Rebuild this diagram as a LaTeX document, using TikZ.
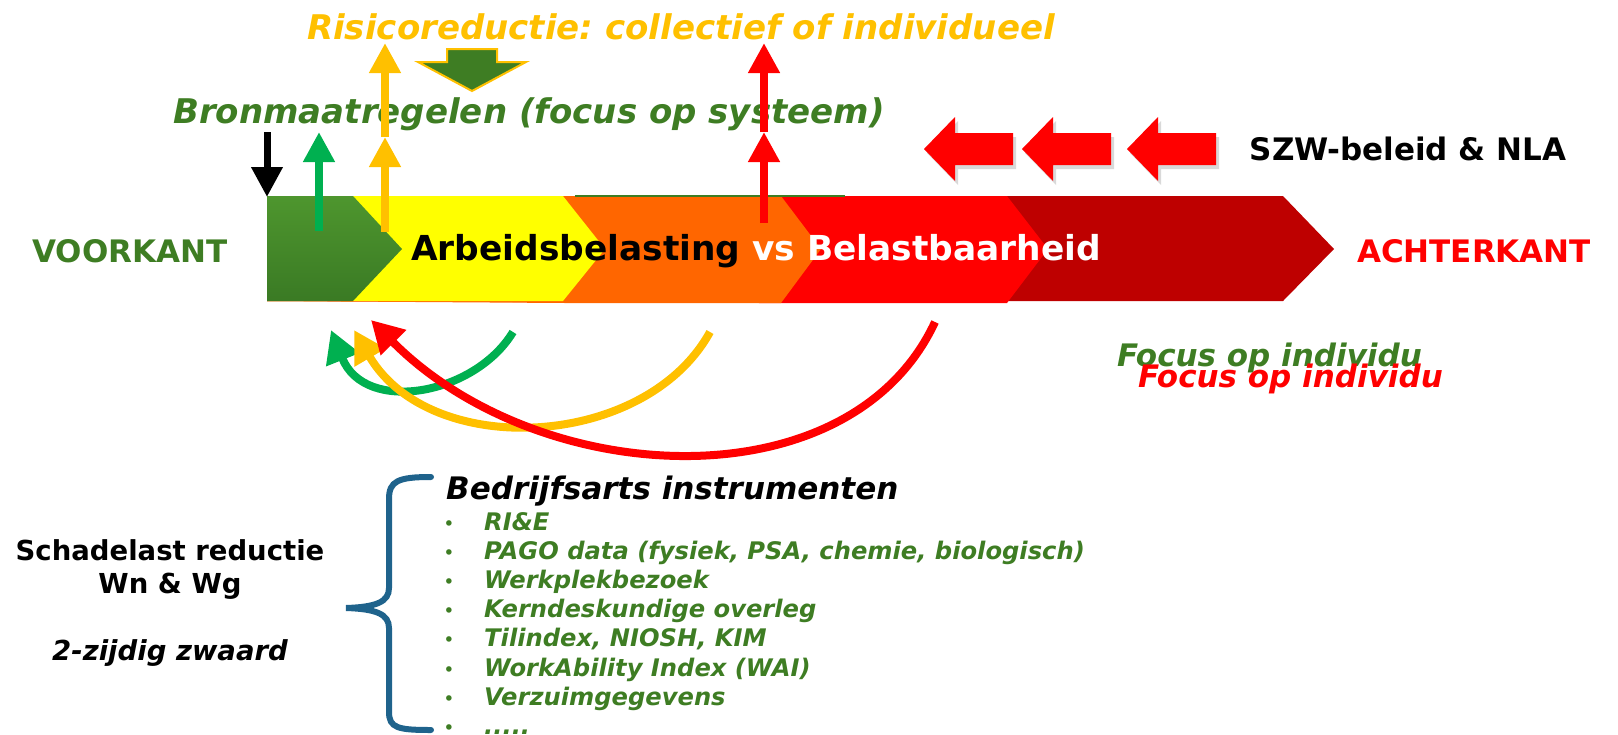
\documentclass[tikz,border=0pt]{standalone}
\usepackage{fontspec}
\setmainfont{DejaVu Sans}
\usetikzlibrary{arrows.meta}
\frenchspacing

\definecolor{goud}{RGB}{255,192,0}
\definecolor{blad}{RGB}{62,125,35}
\definecolor{gras}{RGB}{0,176,80}
\definecolor{rood}{RGB}{255,0,0}
\definecolor{donkerrood}{RGB}{190,0,0}
\definecolor{oranje}{RGB}{255,102,0}
\definecolor{geel}{RGB}{255,255,0}
\definecolor{petrol}{RGB}{31,99,140}

\begin{document}
\begin{tikzpicture}[
  x=1pt, y=-1pt,
  every node/.style={inner sep=0pt},
  kop/.style={font=\fontsize{34}{40}\selectfont\bfseries\itshape},
  zijkant/.style={anchor=base, font=\fontsize{31}{36}\selectfont\bfseries},
  focus/.style={anchor=base west, font=\fontsize{31}{36}\selectfont\bfseries\itshape},
  item/.style={anchor=base west, text=blad, font=\fontsize{24.2}{28}\selectfont\bfseries\itshape},
  bol/.style={anchor=base, text=blad, font=\fontsize{19}{22}\selectfont},
  opwaarts/.style={line width=8pt, -{Triangle[length=30pt,width=30pt]}},
  boog/.style={line width=8pt, -{Triangle[length=32pt,width=34pt]}},
  blok/.style={fill=rood},
  schaduw/.style={fill=black, opacity=0.15},
  accolade/.style={draw=petrol, line width=6pt, line cap=round}
]
\useasboundingbox (0,0) rectangle (1618,734);

% Top labels
\node[kop, text=goud, anchor=base] (risico) at (681,39) {Risicoreductie: collectief of individueel};
\node[kop, text=blad, anchor=base] (bron) at (529,123) {Bronmaatregelen (focus op systeem)};

% Small green block arrow under the title
\filldraw[fill=blad, draw=goud, line width=2pt] (447,49) -- (497,49) -- (497,62) -- (526,62)
  -- (472,91) -- (418,62) -- (447,62) -- cycle;

% Bar with chevrons (back to front)
\fill[donkerrood] (267,196) -- (1283,196) -- (1334,249) -- (1283,301) -- (267,301) -- cycle;
\fill[rood] (267,196) -- (1007,196) -- (1048,249) -- (1007,303) -- (760,303) -- (267,301) -- cycle;
\fill[oranje] (267,196) -- (781,196) -- (821,249) -- (781,303) -- (565,303) -- (267,301) -- cycle;
\fill[geel] (267,196) -- (563,196) -- (605,249) -- (563,301) -- (267,301) -- cycle;
\shade[top color={rgb,255:red,78;green,150;blue,46}, bottom color={rgb,255:red,58;green,122;blue,36}]
  (267,196) -- (353,196) -- (402,249) -- (353,301) -- (267,301) -- cycle;
\draw[blad, line width=1.5pt] (575,196) -- (845,196);

\node[anchor=base west, font=\fontsize{34.4}{40}\selectfont\bfseries] (balk) at (411,260)
  {Arbeidsbelasting \textcolor{white}{vs Belastbaarheid}};

% Side labels
\node[zijkant, text=blad] (voorkant) at (130,262) {VOORKANT};
\node[zijkant, text=rood] (achterkant) at (1474,262) {ACHTERKANT};
\node[zijkant, text=black] (szw) at (1408,160) {SZW-beleid \& NLA};

% Policy arrows
\foreach \tx in {924,1022,1127} {
  \fill[schaduw] (\tx+3,153) -- (\tx+34,121) -- (\tx+34,137) -- (\tx+92,137) -- (\tx+92,169)
    -- (\tx+34,169) -- (\tx+34,185) -- cycle;
  \fill[blok] (\tx,149) -- (\tx+31,117) -- (\tx+31,133) -- (\tx+89,133) -- (\tx+89,165)
    -- (\tx+31,165) -- (\tx+31,181) -- cycle;
}

% Vertical arrows
\coordinate (zwartboven) at (267,132);
\coordinate (zwartonder) at (267,197);
\coordinate (groenvoet) at (319,231);
\coordinate (groenpunt) at (319,132);
\coordinate (goudvoet) at (385,232);
\coordinate (goudmidden) at (385,137);
\coordinate (goudpunt) at (385,43);
\coordinate (roodvoet) at (764,223);
\coordinate (roodmidden) at (764,132);
\coordinate (roodpunt) at (764,43);

\draw[opwaarts, black, line width=7pt] (zwartboven) -- (zwartonder);
\draw[opwaarts, gras] (groenvoet) -- (groenpunt);
\draw[opwaarts, goud] (goudvoet) -- (goudmidden);
\draw[opwaarts, goud] (goudmidden) -- (goudpunt);
\draw[opwaarts, rood] (roodvoet) -- (roodmidden);
\draw[opwaarts, rood] (roodmidden) -- (roodpunt);

% Feedback curves
\coordinate (g1) at (513,332);
\coordinate (g2) at (331,330);
\coordinate (o1) at (710,332);
\coordinate (o2) at (354,330);
\coordinate (r1) at (935,322);
\coordinate (r2) at (371,320);

\draw[boog, gras] (g1) .. controls (475,395) and (365,415) .. (g2);
\draw[boog, goud] (o1) .. controls (645,450) and (430,460) .. (o2);
\draw[boog, rood] (r1) .. controls (850,505) and (540,490) .. (r2);

\node[focus, text=blad] (focusgroen) at (1117,366) {Focus op individu};
\node[focus, text=rood] (focusrood) at (1138,387) {Focus op individu};

% Lower left
\node[anchor=base, font=\fontsize{27.5}{32}\selectfont\bfseries] (schade) at (170,560) {Schadelast reductie};
\node[anchor=base, font=\fontsize{27.5}{32}\selectfont\bfseries] (wnwg) at (170,593) {Wn \& Wg};
\node[anchor=base, font=\fontsize{27.5}{32}\selectfont\bfseries\itshape] (zwaard) at (170,660) {2-zijdig zwaard};

% Brace
\draw[accolade] (431,477) .. controls (398,477) and (389,481) .. (389,499) -- (389,588)
  .. controls (389,602) and (376,607) .. (346,608)
  .. controls (376,609) and (389,614) .. (389,628) -- (389,712)
  .. controls (389,728) and (398,730) .. (431,730);

% Instruments
\node[anchor=base west, font=\fontsize{31}{36}\selectfont\bfseries\itshape] (instr) at (446,499) {Bedrijfsarts instrumenten};
\foreach \txt [count=\i] in {RI\&E, {PAGO data (fysiek, PSA, chemie, biologisch)}, Werkplekbezoek,
  Kerndeskundige overleg, {Tilindex, NIOSH, KIM}, WorkAbility Index (WAI), Verzuimgegevens, {.{}.{}.{}.{}.}} {
  \node[bol] (bol\i) at (449,530+29.2*\i-29.2) {\textbullet};
  \node[item] (item\i) at (484,530+29.2*\i-29.2) {\txt};
}

\end{tikzpicture}
\end{document}
